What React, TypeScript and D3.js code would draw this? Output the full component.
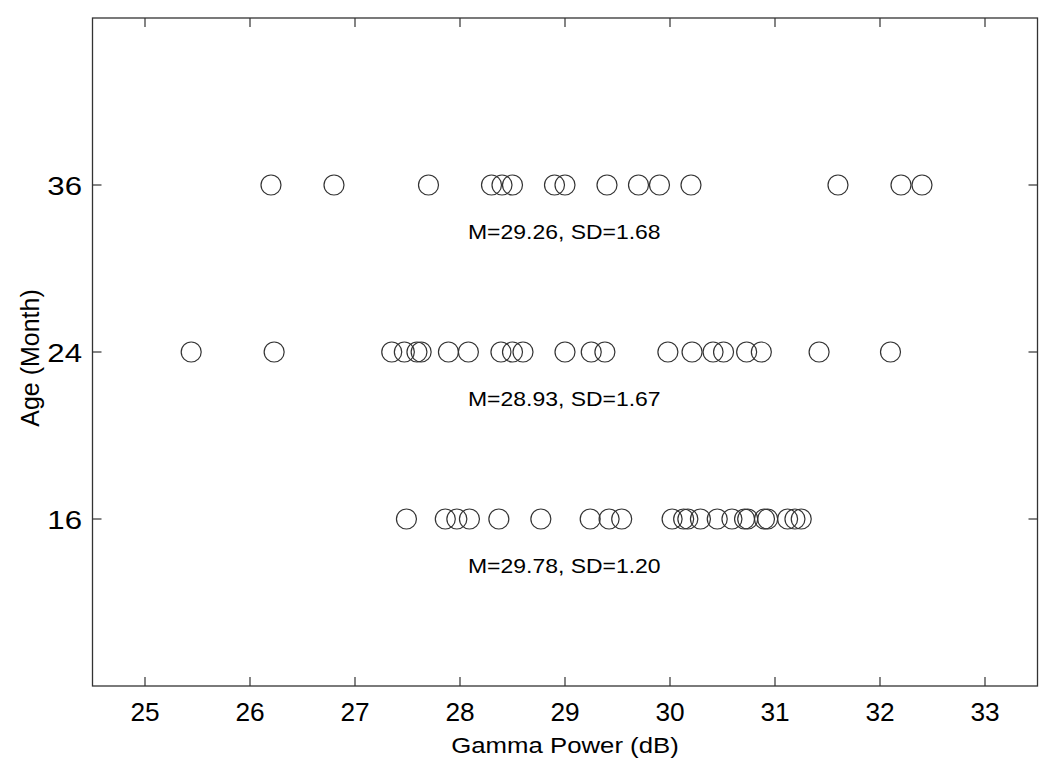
import React, { useEffect, useRef } from 'react'
import * as d3 from 'd3'

// ages shown on the y axis, top to bottom
const ages = ['36', '24', '16']

// gamma power (dB) for each subject
const age36 = [26.2, 26.8, 27.7, 28.3, 28.4, 28.5, 28.9, 29.0, 29.4, 29.7, 29.9, 30.2, 31.6, 32.2, 32.4]
const age24 = [
  25.44, 26.23, 27.35, 27.47, 27.59, 27.63, 27.89, 28.08, 28.39, 28.5, 28.6,
  29.0, 29.25, 29.38, 29.98, 30.21, 30.41, 30.51, 30.73, 30.87, 31.42, 32.1,
]
const age16 = [
  27.49, 27.86, 27.97, 28.09, 28.37, 28.77, 29.24, 29.42, 29.54, 30.02, 30.13,
  30.17, 30.29, 30.45, 30.59, 30.71, 30.74, 30.9, 30.93, 31.12, 31.19, 31.25,
]
const groups = [age36, age24, age16]

// summary labels under each row
const means = ['29.26', '28.93', '29.78']
const sds = ['1.68', '1.67', '1.20']

const xTicks = [25, 26, 27, 28, 29, 30, 31, 32, 33]
const xDomain = [24.5, 33.5]

const W = 1050
const H = 770
const left = 92.5
const right = 1037.5
const top = 18
const bottom = 686
const ink = '#333'
const font = '"Liberation Sans", Arial, Helvetica, sans-serif'

const App = () => {
  const ref = useRef(null)

  useEffect(() => {
    const svg = d3.select(ref.current)
    svg.selectAll('*').remove()

    const x = d3.scaleLinear().domain(xDomain).range([left, right])
    const y = d3.scalePoint().domain(ages).range([top, bottom]).padding(1)

    // frame
    svg.append('rect')
      .attr('x', left).attr('y', top)
      .attr('width', right - left).attr('height', bottom - top)
      .attr('fill', 'none').attr('stroke', ink).attr('stroke-width', 1.3)

    // inward ticks on all four sides
    const tl = 9
    svg.append('g').selectAll('line')
      .data(xTicks).join('line')
      .attr('x1', (d) => x(d)).attr('x2', (d) => x(d))
      .attr('y1', bottom).attr('y2', bottom - tl)
      .attr('stroke', ink).attr('stroke-width', 1.2)
    svg.append('g').selectAll('line')
      .data(xTicks).join('line')
      .attr('x1', (d) => x(d)).attr('x2', (d) => x(d))
      .attr('y1', top).attr('y2', top + tl)
      .attr('stroke', ink).attr('stroke-width', 1.2)
    svg.append('g').selectAll('line')
      .data(ages).join('line')
      .attr('x1', left).attr('x2', left + tl)
      .attr('y1', (d) => y(d)).attr('y2', (d) => y(d))
      .attr('stroke', ink).attr('stroke-width', 1.2)
    svg.append('g').selectAll('line')
      .data(ages).join('line')
      .attr('x1', right).attr('x2', right - tl)
      .attr('y1', (d) => y(d)).attr('y2', (d) => y(d))
      .attr('stroke', ink).attr('stroke-width', 1.2)

    // tick labels
    svg.append('g').selectAll('text')
      .data(xTicks).join('text')
      .attr('transform', (d) => `translate(${x(d)},721) scale(1.05,1)`)
      .attr('text-anchor', 'middle')
      .attr('font-family', font).attr('font-size', 25)
      .attr('fill', '#000')
      .text((d) => d)
    svg.append('g').selectAll('text')
      .data(ages).join('text')
      .attr('transform', (d) => `translate(82,${y(d) + 9.5}) scale(1.2,1)`)
      .attr('text-anchor', 'end')
      .attr('font-family', font).attr('font-size', 26)
      .attr('fill', '#000')
      .text((d) => d)

    // axis titles
    svg.append('text')
      .attr('transform', `translate(${(left + right) / 2},753) scale(1.12,1)`)
      .attr('text-anchor', 'middle')
      .attr('font-family', font).attr('font-size', 23)
      .text('Gamma Power (dB)')
    svg.append('text')
      .attr('transform', `translate(39,${(top + bottom) / 2 + 6}) rotate(-90)`)
      .attr('text-anchor', 'middle')
      .attr('font-family', font).attr('font-size', 25)
      .text('Age (Month)')

    // points
    groups.forEach((vals, i) => {
      svg.append('g').selectAll('circle')
        .data(vals).join('circle')
        .attr('cx', (d) => x(d)).attr('cy', y(ages[i]))
        .attr('r', 10)
        .attr('fill', 'none').attr('stroke', ink).attr('stroke-width', 1.2)
    })

    // summary text
    svg.append('g').selectAll('text')
      .data(ages).join('text')
      .attr('transform', (d) => `translate(468,${y(d) + 54}) scale(1.12,1)`)
      .attr('font-family', font).attr('font-size', 20.5)
      .attr('fill', '#000')
      .text((d, i) => `M=${means[i]}, SD=${sds[i]}`)
  }, [])

  return (
    <svg ref={ref} width={W} height={H}
      style={{ position: 'absolute', left: 0, top: 0, background: '#fff' }} />
  )
}

export default App
